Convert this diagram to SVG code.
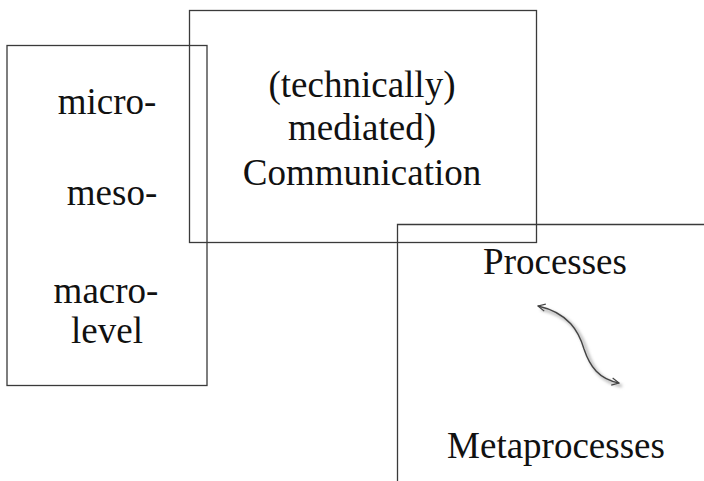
<svg xmlns="http://www.w3.org/2000/svg" width="704" height="481" viewBox="0 0 704 481">
<style>
.box{fill:none;stroke:#3a3a3a;stroke-width:1.3}
.t{font-family:"Liberation Serif","Times New Roman",serif;font-size:37px;fill:#111;text-anchor:middle}
.arr{fill:none;stroke:#444;stroke-width:1.4}
.sh{fill:none;stroke:#bbb;stroke-width:3;filter:url(#blur)}
</style>
<defs>
<filter id="blur" x="-20%" y="-20%" width="140%" height="140%"><feGaussianBlur stdDeviation="1.5"/></filter>
<marker id="head" viewBox="0 0 10 10" refX="9" refY="5" markerWidth="9" markerHeight="9" orient="auto-start-reverse" markerUnits="userSpaceOnUse">
<path d="M1,1 L9,5 L1,9" fill="none" stroke="#444" stroke-width="1.3"/>
</marker>
</defs>
<rect width="704" height="481" fill="#fff"/>
<g id="levels">
<rect class="box" x="7" y="45.5" width="200" height="340"/>
<text class="t" x="107" y="114">micro-</text>
<text class="t" x="112" y="205">meso-</text>
<text class="t" x="106" y="303">macro-</text>
<text class="t" x="107" y="343">level</text>
</g>
<g id="communication">
<rect class="box" x="189.5" y="10.5" width="347" height="232"/>
<text class="t" x="362" y="97">(technically)</text>
<text class="t" x="362" y="140">mediated)</text>
<text class="t" x="362" y="185">Communication</text>
</g>
<g id="processes">
<path class="box" d="M397.5,481 V224.5 H704"/>
<text class="t" x="555" y="274">Processes</text>
<text class="t" x="556" y="458">Metaprocesses</text>
</g>
<g id="connectors">
<path class="sh" d="M541,309 C572,316 582,335 587,352 C593,370 602,382 622,386"/>
<path class="arr" d="M538,306 C569,313 579,332 584,349 C590,367 599,379 619,383" marker-start="url(#head)" marker-end="url(#head)"/>
</g>
</svg>
